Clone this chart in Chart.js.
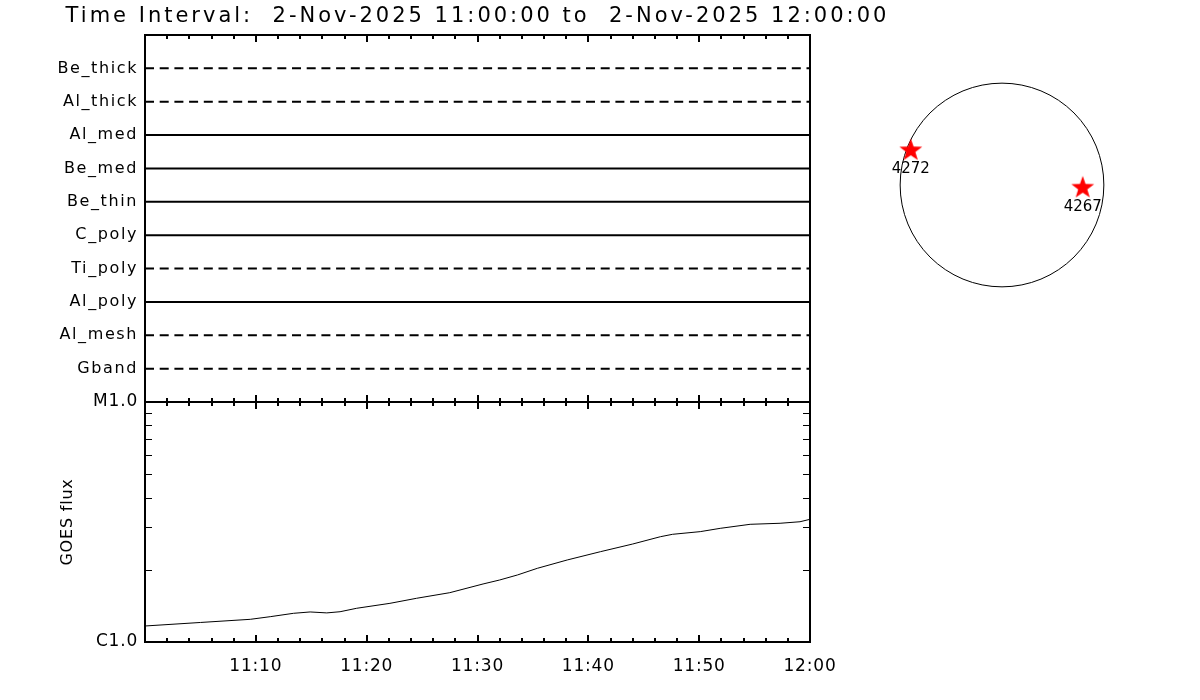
<!DOCTYPE html>
<html>
<head>
<meta charset="utf-8">
<title>Time Interval</title>
<script src="https://cdn.jsdelivr.net/npm/chart.js@4"></script>
<style>
    html, body { margin: 0; padding: 0; background: #fff; }
    #wrap { position: relative; width: 1200px; height: 700px; }
    #wrap canvas { position: absolute; left: 0; top: 0; }
</style>
</head>
<body>
<div id="wrap">
    <canvas id="filterChart" width="1200" height="700"></canvas>
    <canvas id="goesChart" width="1200" height="700"></canvas>
    <canvas id="diskChart" width="1200" height="700"></canvas>
</div>
<script>
const titleText = 'Time Interval:  2-Nov-2025 11:00:00 to  2-Nov-2025 12:00:00';

// time in minutes after 11:00
const timeRange = [0, 60];
const filterNames = ['Be_thick', 'Al_thick', 'Al_med', 'Be_med', 'Be_thin', 'C_poly', 'Ti_poly', 'Al_poly', 'Al_mesh', 'Gband'];
const filterDashed = [true, true, false, false, false, false, true, false, true, true];

const xTickMinutes = [10, 20, 30, 40, 50, 60];
const xTickLabels = ['11:10', '11:20', '11:30', '11:40', '11:50', '12:00'];

// GOES 1-8 A flux (W/m^2)
const goesMinutes = [0, 5, 9.5, 11.3, 13.4, 14.9, 16.4, 17.6, 19.1, 22.1, 24.5, 27.5, 30.5, 32.0, 33.6, 35.4,
    38.1, 41.1, 44.0, 46.5, 47.6, 50.1, 51.9, 54.6, 57.3, 59.1, 60];
const goesFlux = [1.166e-6, 1.206e-6, 1.243e-6, 1.275e-6, 1.317e-6, 1.334e-6, 1.322e-6, 1.337e-6, 1.382e-6,
    1.449e-6, 1.521e-6, 1.605e-6, 1.745e-6, 1.813e-6, 1.902e-6, 2.028e-6, 2.197e-6, 2.379e-6, 2.56e-6,
    2.746e-6, 2.81e-6, 2.883e-6, 2.976e-6, 3.093e-6, 3.124e-6, 3.17e-6, 3.245e-6];
const goesTickValues = [1e-6, 2e-6, 3e-6, 4e-6, 5e-6, 6e-6, 7e-6, 8e-6, 9e-6, 1e-5];
const goesLabelValues = [1e-6, 1e-5];
const goesLabelText = ['C1.0', 'M1.0'];

// active regions on the disk (arcsec)
const arNumbers = ['4272', '4267'];
const arX = [-869, 769];
const arY = [340, -16];
const limbRadius = 970;

const FONT = "'DejaVu Sans', sans-serif";
Chart.defaults.font.family = FONT;
Chart.defaults.color = '#000';

function spacing(px) {
    return {
        id: 'spacing',
        beforeUpdate(chart) { chart.ctx.letterSpacing = px + 'px'; },
        beforeDraw(chart) { chart.ctx.letterSpacing = px + 'px'; }
    };
}

// box around the plot area plus inward tick marks
const frameTicks = {
    id: 'frameTicks',
    afterDraw(chart, args, opts) {
        const {ctx, chartArea: a, scales} = chart;
        const x = scales.x;
        ctx.save();
        ctx.strokeStyle = '#000';
        ctx.setLineDash([]);
        ctx.lineWidth = 2;
        ctx.beginPath();
        x.ticks.forEach(t => {
            const px = Math.round(x.getPixelForValue(t.value));
            const len = t.value % 10 === 0 ? opts.major : opts.minor;
            ctx.moveTo(px, a.top);
            ctx.lineTo(px, a.top + len);
            ctx.moveTo(px, a.bottom);
            ctx.lineTo(px, a.bottom - len);
        });
        ctx.stroke();
        if (opts.yLen) {
            const y = scales.y;
            ctx.lineWidth = 1;
            ctx.beginPath();
            y.ticks.forEach(t => {
                if (t.value <= y.min || t.value >= y.max) return;
                const py = Math.round(y.getPixelForValue(t.value)) + 0.5;
                ctx.moveTo(a.left, py);
                ctx.lineTo(a.left + opts.yLen, py);
                ctx.moveTo(a.right, py);
                ctx.lineTo(a.right - opts.yLen, py);
            });
            ctx.stroke();
        }
        ctx.lineWidth = 2;
        ctx.strokeRect(a.left, a.top, a.width, a.height);
        ctx.restore();
    }
};

const topTitle = {
    id: 'topTitle',
    afterDraw(chart, args, opts) {
        const {ctx, chartArea: a} = chart;
        ctx.save();
        ctx.letterSpacing = opts.spacing + 'px';
        ctx.font = opts.size + 'px ' + FONT;
        ctx.fillStyle = '#000';
        ctx.textAlign = 'center';
        ctx.textBaseline = 'middle';
        ctx.fillText(opts.text, (a.left + a.right) / 2, opts.y);
        ctx.restore();
    }
};

const limb = {
    id: 'limb',
    beforeDatasetsDraw(chart, args, opts) {
        const {ctx, scales: {x, y}} = chart;
        const cx = x.getPixelForValue(0);
        const cy = y.getPixelForValue(0);
        const r = x.getPixelForValue(opts.radius) - cx;
        ctx.save();
        ctx.strokeStyle = '#000';
        ctx.lineWidth = 1;
        ctx.beginPath();
        ctx.arc(cx, cy, r, 0, Math.PI * 2);
        ctx.stroke();
        ctx.restore();
    },
    afterDatasetsDraw(chart, args, opts) {
        const ctx = chart.ctx;
        const meta = chart.getDatasetMeta(0);
        ctx.save();
        ctx.font = opts.size + 'px ' + FONT;
        ctx.fillStyle = '#000';
        ctx.textAlign = 'center';
        ctx.textBaseline = 'middle';
        meta.data.forEach((p, i) => ctx.fillText(opts.labels[i], p.x, p.y + opts.offset));
        ctx.restore();
    }
};

function makeStar(R, color) {
    const size = Math.ceil(R * 2 + 2);
    const c = document.createElement('canvas');
    c.width = c.height = size;
    const g = c.getContext('2d');
    const cx = size / 2, cy = size / 2 + R * 0.0955;
    g.beginPath();
    for (let i = 0; i < 10; i++) {
        const ang = -Math.PI / 2 + i * Math.PI / 5;
        const rad = i % 2 ? R * 0.4 : R;
        g.lineTo(cx + rad * Math.cos(ang), cy + rad * Math.sin(ang));
    }
    g.closePath();
    g.fillStyle = color;
    g.fill();
    return c;
}

const common = {
    responsive: false,
    animation: false,
    events: []
};

// Filter panel
new Chart(document.getElementById('filterChart'), {
    type: 'line',
    data: {
        datasets: filterNames.map((name, i) => ({
            label: name,
            data: timeRange.map(t => ({x: t, y: i + 1})),
            borderColor: '#000',
            borderWidth: 2,
            borderDash: filterDashed[i] ? [9, 5.7] : [],
            pointRadius: 0,
            fill: false
        }))
    },
    options: {
        ...common,
        layout: { padding: { top: 35, bottom: 298, left: 0, right: 390 } },
        scales: {
            x: {
                type: 'linear', display: false, min: 0, max: 60,
                ticks: { stepSize: 2, autoSkip: false }
            },
            y: {
                type: 'linear', reverse: true, min: 0, max: 11,
                afterFit(s) { s.width = 145; },
                afterBuildTicks(s) { s.ticks = filterNames.map((n, i) => ({value: i + 1})); },
                ticks: {
                    autoSkip: false,
                    padding: 7,
                    font: { size: 16 },
                    callback: v => filterNames[v - 1] || ''
                },
                grid: { display: false, drawTicks: false },
                border: { display: false }
            }
        },
        plugins: {
            legend: { display: false },
            tooltip: { enabled: false },
            frameTicks: { major: 7, minor: 4 },
            topTitle: { text: titleText, size: 21, spacing: 3, y: 17 }
        }
    },
    plugins: [spacing(1.6), frameTicks, topTitle]
});

// GOES panel
new Chart(document.getElementById('goesChart'), {
    type: 'line',
    data: {
        datasets: [{
            label: 'GOES flux',
            data: goesMinutes.map((m, i) => ({x: m, y: goesFlux[i]})),
            borderColor: '#000',
            borderWidth: 1,
            pointRadius: 0,
            fill: false
        }]
    },
    options: {
        ...common,
        layout: { padding: { top: 402, bottom: 0, left: 0, right: 390 } },
        scales: {
            x: {
                type: 'linear', min: 0, max: 60,
                afterFit(s) { s.height = 58; },
                ticks: {
                    stepSize: 2,
                    autoSkip: false,
                    maxRotation: 0,
                    padding: 14,
                    font: { size: 17 },
                    callback: v => {
                        const k = xTickMinutes.indexOf(v);
                        return k < 0 ? '' : xTickLabels[k];
                    }
                },
                grid: { display: false, drawTicks: false },
                border: { display: false }
            },
            y: {
                type: 'logarithmic', min: 1e-6, max: 1e-5,
                afterFit(s) { s.width = 145; },
                afterBuildTicks(s) { s.ticks = goesTickValues.map(v => ({value: v})); },
                ticks: {
                    autoSkip: false,
                    padding: 7,
                    font: { size: 17 },
                    callback: v => {
                        const k = goesLabelValues.indexOf(v);
                        return k < 0 ? '' : goesLabelText[k];
                    }
                },
                title: { display: true, text: 'GOES flux', padding: { top: 58 }, font: { size: 16 } },
                grid: { display: false, drawTicks: false },
                border: { display: false }
            }
        },
        plugins: {
            legend: { display: false },
            tooltip: { enabled: false },
            frameTicks: { major: 7, minor: 4, yLen: 7 }
        }
    },
    plugins: [spacing(0.8), frameTicks]
});

// Solar disk with active regions
new Chart(document.getElementById('diskChart'), {
    type: 'scatter',
    data: {
        datasets: [{
            label: 'AR',
            data: arX.map((x, i) => ({x: x, y: arY[i]})),
            pointStyle: makeStar(12, '#ff0000'),
            pointRadius: 10
        }]
    },
    options: {
        ...common,
        layout: { padding: { top: 80, bottom: 410, left: 897, right: 93 } },
        scales: {
            x: { type: 'linear', display: false, min: -1000, max: 1000 },
            y: { type: 'linear', display: false, min: -1000, max: 1000 }
        },
        plugins: {
            legend: { display: false },
            tooltip: { enabled: false },
            limb: { radius: limbRadius, labels: arNumbers, size: 15, offset: 20 }
        }
    },
    plugins: [limb]
});
</script>
</body>
</html>
